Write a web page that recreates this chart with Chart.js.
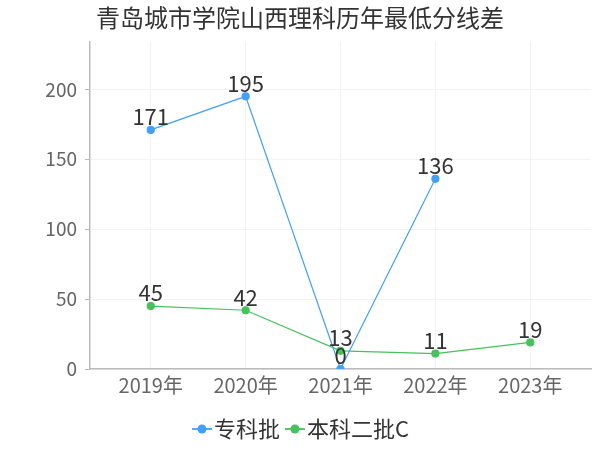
<!DOCTYPE html>
<html>
<head>
<meta charset="utf-8">
<script src="https://cdn.jsdelivr.net/npm/chart.js@4/dist/chart.umd.min.js"></script>
<style>
  html, body { margin: 0; padding: 0; background: #fff; }
  #wrap { width: 600px; height: 450px; }
</style>
</head>
<body>
<div id="wrap"><canvas id="c" width="600" height="450"></canvas></div>
<script>
const years = ['2019年', '2020年', '2021年', '2022年', '2023年'];
const zhuanke = [171, 195, 0, 136, null];
const benke2c = [45, 42, 13, 11, 19];
const yTicks = [0, 50, 100, 150, 200];

const FONT = '"Noto Sans CJK SC", "Noto Sans", sans-serif';
const BLUE = '#3fa0ff';
const GREEN = '#45c25a';

// legend marker: short line with a dot, pushed right so it sits close to the text
function lineDot(color) {
  const c = document.createElement('canvas');
  c.width = 36; c.height = 12;
  const g = c.getContext('2d');
  g.strokeStyle = color; g.lineWidth = 1.8;
  g.beginPath(); g.moveTo(13, 6); g.lineTo(33, 6); g.stroke();
  g.fillStyle = color;
  g.beginPath(); g.arc(23, 6, 4.5, 0, Math.PI * 2); g.fill();
  return c;
}

// value labels above each point
const valueLabels = {
  id: 'valueLabels',
  afterDatasetsDraw(chart) {
    const ctx = chart.ctx;
    ctx.save();
    ctx.font = '22px ' + FONT;
    ctx.fillStyle = '#333';
    ctx.textAlign = 'center';
    ctx.textBaseline = 'middle';
    const raw = [zhuanke, benke2c];
    chart.data.datasets.forEach((ds, i) => {
      chart.getDatasetMeta(i).data.forEach((pt, j) => {
        const v = raw[i][j];
        if (v === null || v === undefined) return;
        ctx.fillText(String(v), pt.x, pt.y - 13);
      });
    });
    ctx.restore();
  }
};

const toPoints = arr => arr.map((v, i) => ({ x: i, y: v }));

new Chart(document.getElementById('c'), {
  type: 'line',
  data: {
    datasets: [
      {
        label: '专科批',
        data: toPoints(zhuanke),
        borderColor: BLUE,
        backgroundColor: BLUE,
        borderWidth: 1.2,
        pointRadius: 3.5,
        pointHoverRadius: 3.5,
        pointStyle: 'circle'
      },
      {
        label: '本科二批C',
        data: toPoints(benke2c),
        borderColor: GREEN,
        backgroundColor: GREEN,
        borderWidth: 1.2,
        pointRadius: 3.5,
        pointHoverRadius: 3.5,
        pointStyle: 'circle'
      }
    ]
  },
  options: {
    responsive: false,
    animation: false,
    layout: { padding: { left: 9, right: 9, top: 0, bottom: 0 } },
    plugins: {
      title: {
        display: true,
        text: '青岛城市学院山西理科历年最低分线差',
        color: '#333',
        font: { family: FONT, size: 24, weight: 'normal' },
        padding: { top: 3, bottom: 10 }
      },
      legend: {
        position: 'bottom',
        labels: {
          color: '#333',
          font: { family: FONT, size: 22 },
          usePointStyle: true,
          pointStyleWidth: 12,
          padding: 4,
          generateLabels: chart => chart.data.datasets.map((ds, i) => ({
            text: ds.label,
            fontColor: '#333',
            pointStyle: lineDot(ds.borderColor),
            datasetIndex: i,
            hidden: false,
            lineWidth: 0
          }))
        }
      },
      tooltip: { enabled: false }
    },
    scales: {
      x: {
        type: 'linear',
        min: -0.64,
        max: 4.64,
        afterBuildTicks: s => { s.ticks = years.map((_, i) => ({ value: i })); },
        afterFit: s => { s.height += 13; },
        ticks: {
          color: '#666',
          font: { family: FONT, size: 20 },
          padding: 4,
          callback: v => years[v]
        },
        grid: { color: '#f3f3f3', drawTicks: false },
        border: { color: '#bbb', width: 1.5 }
      },
      y: {
        min: 0,
        max: 234,
        afterBuildTicks: s => { s.ticks = yTicks.map(v => ({ value: v })); },
        afterFit: s => { s.width = 81; },
        ticks: {
          color: '#666',
          font: { family: FONT, size: 19 },
          padding: 8
        },
        grid: { color: '#f3f3f3', tickColor: '#bbb', tickLength: 5 },
        border: { color: '#bbb', width: 1.5 }
      }
    }
  },
  plugins: [valueLabels]
});
</script>
</body>
</html>
